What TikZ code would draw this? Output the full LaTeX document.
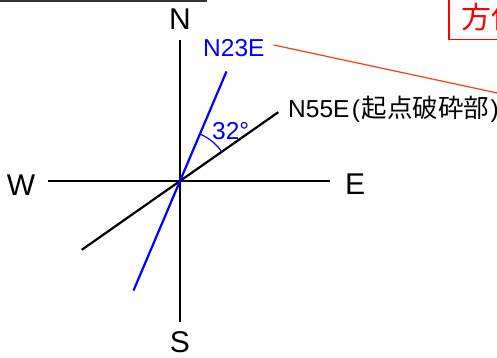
\documentclass[tikz,border=0pt]{standalone}
\usepackage{fontspec}
\setmainfont{Liberation Sans}
\newfontfamily\cjk{Noto Sans CJK JP}
\definecolor{lnred}{HTML}{FF3A10}
\begin{document}
\begin{tikzpicture}[x=1pt,y=-1pt,
  axis/.style={line width=2pt,black},
  strike/.style={line width=2.2pt},
  lbl/.style={inner sep=0pt,font=\fontsize{30}{30}\selectfont,anchor=base},
  small/.style={inner sep=0pt,font=\fontsize{24.5}{25}\selectfont,anchor=base west}]
\useasboundingbox (0,0) rectangle (497,358);
% top rule
\coordinate (tl) at (0,1);
\coordinate (tr) at (207,1);
\draw[line width=2pt,black!80] (tl) -- (tr);
% centre and axis ends
\coordinate (O) at (180,181);
\coordinate (nEnd) at (180,40);
\coordinate (sEnd) at (180,322);
\coordinate (wEnd) at (48,181);
\coordinate (eEnd) at (330,181);
\draw[axis] (nEnd) -- (sEnd);
\draw[axis] (wEnd) -- (eEnd);
% strike lines (y axis points down: north = -90 deg)
\coordinate (b1) at ([shift={(-35:120)}]O);
\coordinate (b2) at ([shift={(145:120)}]O);
\coordinate (u1) at ([shift={(-67:119)}]O);
\coordinate (u2) at ([shift={(113:119)}]O);
\draw[strike,black] (b2) -- (b1);
\draw[strike,blue] (u2) -- (u1);
% angle arc
\draw[blue,line width=1.2pt] ([shift={(-67:51)}]O) arc[start angle=-67,end angle=-35,radius=51];
% labels
\node[lbl] (N) at (180,30) {N};
\node[lbl] (S) at (180,352) {S};
\node[lbl] (W) at (21,195) {W};
\node[lbl] (E) at (355,194) {E};
\node[small,blue] (lab23) at (203,57) {N23E};
\node[small] (lab55) at (288,118) {N55E\hspace{2.5pt}(\hspace{1.5pt}{\cjk\fontsize{25.5}{26}\selectfont 起点破砕部}\hspace{1.5pt})};
\node[small,blue] (ang) at (212,140) {32°};
% leader line
\coordinate (ldEnd) at (530,100);
\draw[lnred,line width=1.2pt] (lab23.east|-0,45) ++(9,0) coordinate (ldStart) -- (ldEnd);
% red title box
\node[draw=red,line width=1.5pt,text=red,inner sep=0pt,anchor=north west,minimum height=46pt,
  text width=80pt,font=\cjk\fontsize{30}{30}\selectfont,align=left] (title) at (448,-7)
  {\hspace*{13pt}方位};
\end{tikzpicture}
\end{document}
